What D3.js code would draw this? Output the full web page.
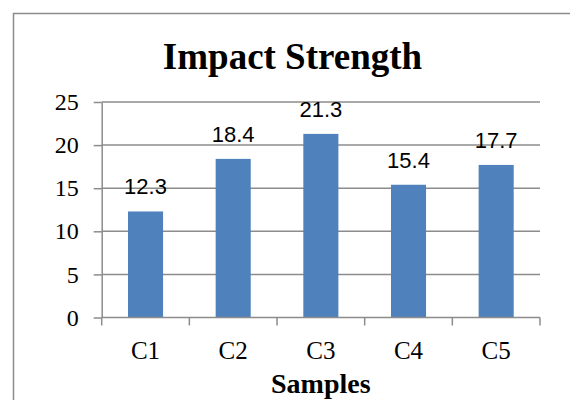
<!DOCTYPE html>
<html>
<head>
<meta charset="utf-8">
<script src="https://cdn.jsdelivr.net/npm/d3@7"></script>
<style>
  body { margin: 0; background: #fff; }
</style>
</head>
<body>
<div id="chart"></div>
<script>
// data
const samples = ["C1", "C2", "C3", "C4", "C5"];
const strength = [12.3, 18.4, 21.3, 15.4, 17.7];
const yTicks = [0, 5, 10, 15, 20, 25];

const width = 570, height = 400;
const margin = {top: 102, right: 30, bottom: 82.5, left: 101.7};

const svg = d3.select("#chart")
  .append("svg")
    .attr("width", width)
    .attr("height", height);

// chart area frame, runs off the right and bottom edges
svg.append("rect")
  .attr("x", 13.5)
  .attr("y", 13.5)
  .attr("width", 620)
  .attr("height", 420)
  .attr("fill", "none")
  .attr("stroke", "#8c8c8c")
  .attr("stroke-width", 1.5);

const x = d3.scaleBand(samples, [margin.left, width - margin.right]).paddingInner(0);
const y = d3.scaleLinear([0, 25], [height - margin.bottom, margin.top]);

const serif = "Liberation Serif, Times New Roman, serif";
const sans = "Liberation Sans, Arial, sans-serif";

// gridlines
svg.append("g")
  .selectAll("line")
  .data(yTicks.filter(d => d > 0))
  .join("line")
    .attr("x1", margin.left)
    .attr("x2", width - margin.right)
    .attr("y1", d => y(d))
    .attr("y2", d => y(d))
    .attr("stroke", "#8c8c8c")
    .attr("stroke-width", 1.5);

// bars: Excel gap width 150% -> bar is 40% of the band
const barW = x.bandwidth() * 0.4;
svg.append("g")
  .selectAll("rect")
  .data(samples)
  .join("rect")
    .attr("x", (d, i) => x(d) + (x.bandwidth() - barW) / 2)
    .attr("y", (d, i) => y(strength[i]))
    .attr("width", barW)
    .attr("height", (d, i) => y(0) - y(strength[i]))
    .attr("fill", "#4f81bd");

// data labels
svg.append("g")
  .selectAll("text")
  .data(samples)
  .join("text")
    .attr("x", d => x(d) + x.bandwidth() / 2)
    .attr("y", (d, i) => y(strength[i]) - 17)
    .attr("text-anchor", "middle")
    .attr("font-family", sans)
    .attr("font-size", 22)
    .attr("fill", "#000")
    .text((d, i) => strength[i]);

// y axis
svg.append("g")
  .attr("transform", `translate(${margin.left},0)`)
  .call(d3.axisLeft(y).tickValues(yTicks).tickSize(8).tickPadding(15).tickSizeOuter(0))
  .attr("font-family", serif)
  .attr("font-size", 24)
  .call(g => g.select(".domain").attr("stroke", "#8c8c8c").attr("stroke-width", 1.5))
  .call(g => g.selectAll(".tick line").attr("stroke", "#8c8c8c").attr("stroke-width", 1.5))
  .call(g => g.selectAll(".tick text").attr("fill", "#000"));

// x axis, ticks between categories
const xAxisG = svg.append("g")
  .attr("transform", `translate(0,${y(0)})`)
  .attr("font-family", serif)
  .attr("font-size", 25);
xAxisG.append("line")
  .attr("x1", margin.left)
  .attr("x2", width - margin.right)
  .attr("stroke", "#8c8c8c")
  .attr("stroke-width", 1.5);
const bounds = samples.map(d => x(d)).concat([x(samples[samples.length - 1]) + x.bandwidth()]);
xAxisG.selectAll(".sep")
  .data(bounds)
  .join("line")
    .attr("class", "sep")
    .attr("x1", d => d)
    .attr("x2", d => d)
    .attr("y1", 0)
    .attr("y2", 8)
    .attr("stroke", "#8c8c8c")
    .attr("stroke-width", 1.5);
xAxisG.selectAll(".lbl")
  .data(samples)
  .join("text")
    .attr("class", "lbl")
    .attr("x", d => x(d) + x.bandwidth() / 2)
    .attr("y", 41)
    .attr("text-anchor", "middle")
    .attr("fill", "#000")
    .text(d => d);

// title
svg.append("text")
  .attr("x", 292.5)
  .attr("y", 69)
  .attr("text-anchor", "middle")
  .attr("font-family", serif)
  .attr("font-size", 37)
  .attr("font-weight", 700)
  .text("Impact Strength");

// x axis title
svg.append("text")
  .attr("x", (margin.left + width - margin.right) / 2)
  .attr("y", 393)
  .attr("text-anchor", "middle")
  .attr("font-family", serif)
  .attr("font-size", 28)
  .attr("font-weight", 700)
  .text("Samples");
</script>
</body>
</html>
